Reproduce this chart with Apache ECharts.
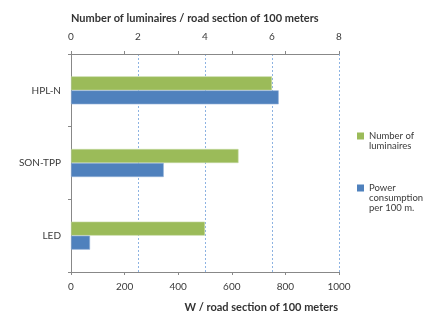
<!DOCTYPE html>
<html><head><meta charset="utf-8">
<script src="https://cdn.jsdelivr.net/npm/echarts@6/dist/echarts.min.js"></script>
<style>html,body{margin:0;padding:0;background:#fff}#c{width:428px;height:311px}</style>
</head><body><div id="c"></div>
<script>
const categories = ['HPL-N', 'SON-TPP', 'LED'];
const luminaires = [6, 5, 4];
const power = [775, 346, 71];
const topTicks = [0, 2, 4, 6, 8];
const bottomTicks = [0, 200, 400, 600, 800, 1000];
const seriesNames = ['Number of\nluminaires', 'Power\nconsumption\nper 100 m.'];

const FONT = 'Lato';
const txt = '#3a3a3a';
// legend marker: square aligned with the first text line
function marker(h) {
  return 'path://M0,0h0.01v0.01h-0.01Z M0,1.5h7v7h-7Z M0,' + (h - 0.01) + 'h0.01v0.01h-0.01Z';
}
const chart = echarts.init(document.getElementById('c'), null, {renderer: 'canvas'});
chart.setOption({
  animation: false,
  textStyle: {fontFamily: FONT},
  grid: {left: 71, right: 89, top: 54, bottom: 39, containLabel: false},
  title: [
    {text: 'Number of luminaires / road section of 100 meters', left: 66, top: 8,
     textStyle: {fontFamily: FONT, fontSize: 11, fontWeight: 'bold', color: '#333'}},
    {text: 'W / road section of 100 meters', right: 85, top: 297,
     textStyle: {fontFamily: FONT, fontSize: 11, fontWeight: 'bold', color: '#333'}}
  ],
  legend: [
    {data: [{name: seriesNames[0], icon: marker(20)}], orient: 'vertical', left: 357, top: 131, padding: 0,
     itemWidth: 7, itemHeight: 20, itemStyle: {borderWidth: 0},
     textStyle: {fontFamily: FONT, fontSize: 9.5, color: txt, lineHeight: 10}},
    {data: [{name: seriesNames[1], icon: marker(30)}], orient: 'vertical', left: 357, top: 183, padding: 0,
     itemWidth: 7, itemHeight: 30, itemStyle: {borderWidth: 0},
     textStyle: {fontFamily: FONT, fontSize: 9.5, color: txt, lineHeight: 10}}
  ],
  xAxis: [
    {type: 'value', position: 'top', min: topTicks[0], max: topTicks[topTicks.length - 1], interval: 2,
     axisLine: {show: false}, axisTick: {show: false},
     axisLabel: {fontFamily: FONT, fontSize: 10, color: txt, margin: 12},
     splitLine: {show: true, lineStyle: {color: '#8db3e2', type: [2, 2], width: 1}}},
    {type: 'value', position: 'bottom', min: bottomTicks[0], max: bottomTicks[bottomTicks.length - 1], interval: 200,
     axisLine: {show: true, lineStyle: {color: '#888'}}, axisTick: {show: true, length: 3, lineStyle: {color: '#888'}},
     axisLabel: {fontFamily: FONT, fontSize: 10, color: txt, margin: 10, formatter: v => String(v)},
     splitLine: {show: false}},
    {type: 'value', position: 'top', min: bottomTicks[0], max: bottomTicks[bottomTicks.length - 1], interval: 200,
     axisLine: {show: true, lineStyle: {color: '#888'}}, axisTick: {show: true, length: 3, lineStyle: {color: '#888'}},
     axisLabel: {show: false}, splitLine: {show: false}}
  ],
  yAxis: {type: 'category', data: categories, inverse: true,
    axisLine: {show: true, lineStyle: {color: '#888'}},
    axisTick: {show: true, length: 3, lineStyle: {color: '#888'}},
    axisLabel: {fontFamily: FONT, fontSize: 10, color: txt, margin: 10}},
  series: [
    {name: seriesNames[0], type: 'bar', xAxisIndex: 0, data: luminaires, barWidth: 14, barGap: '0%',
     itemStyle: {color: '#9bbb59', borderColor: '#c3d8a0', borderWidth: 0.6}},
    {name: seriesNames[1], type: 'bar', xAxisIndex: 1, data: power, barWidth: 14, barGap: '0%',
     itemStyle: {color: '#4f81bd', borderColor: '#93b1d8', borderWidth: 0.6}}
  ]
});
</script></body></html>
